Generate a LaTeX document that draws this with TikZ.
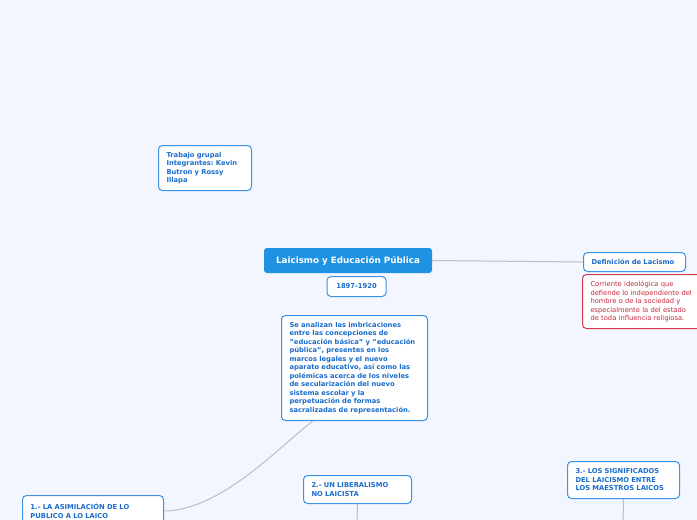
\documentclass[tikz,border=0pt]{standalone}
\usepackage{fontspec}
\setmainfont{DejaVu Sans}
\usetikzlibrary{positioning}
\frenchspacing
\definecolor{cback}{HTML}{F3F6FE}
\definecolor{cborder}{HTML}{3A94E6}
\definecolor{ctext}{HTML}{1A6CCC}
\definecolor{cmain}{HTML}{1E93E3}
\definecolor{cred}{HTML}{D2384C}
\definecolor{credtext}{HTML}{C9283E}
\definecolor{cline}{HTML}{B9BDC7}

\begin{document}
\begin{tikzpicture}[
  x=1pt, y=-1pt,
  topic/.style={draw=cborder, fill=white, rounded corners=4pt, line width=1pt,
                text=ctext, font=\fontsize{6.75}{8.5}\selectfont\bfseries,
                align=left, inner xsep=8pt, inner ysep=0pt, anchor=north west},
  mainbox/.style={fill=cmain, rounded corners=3pt, text=white,
                  font=\fontsize{8.75}{10}\selectfont\bfseries,
                  minimum width=168pt, minimum height=25pt, inner sep=0pt},
  notebox/.style={draw=cred, fill=white, rounded corners=4pt, line width=1pt,
                  text=credtext, font=\fontsize{6.75}{8.5}\selectfont,
                  align=left, inner xsep=8pt, inner ysep=0pt, anchor=north west},
  link/.style={draw=cline, line width=1pt}
]
\fill[cback] (0,0) rectangle (697,520);
\useasboundingbox (0,0) rectangle (697,520);
\begin{scope}
\clip (0,0) rectangle (697,520);

\node[mainbox] (main) at (348,260.5) {Laicismo y Educación Pública};
\node[topic, anchor=north, align=center, minimum width=59pt, minimum height=20pt,
      inner xsep=0pt] (date) at (356.5,276) {1897-1920};

\node[topic, text width=77pt, minimum height=45pt] (grupo) at (158,145)
  {Trabajo grupal\\Integrantes: Kevin\\Butron y Rossy\\Illapa};

\node[topic, text width=130pt, minimum height=105pt] (resumen) at (281,315)
  {Se analizan las imbricaciones\\entre las concepciones de\\%
   "educación básica" y "educación\\pública", presentes en los\\%
   marcos legales y el nuevo\\aparato educativo, así como las\\%
   polémicas acerca de los niveles\\de secularización del nuevo\\%
   sistema escolar y la\\perpetuación de formas\\%
   sacralizadas de representación.};

\node[topic, text width=86pt, minimum height=19pt] (def) at (583,252)
  {Definición de Lacismo};
\node[notebox, text width=112pt, minimum height=54pt] (nota) at (582,274)
  {Corriente ideológica que\\defiende lo independiente del\\%
   hombre o de la sociedad y\\especialmente la del estado\\%
   de toda influencia religiosa.};

\node[topic, text width=125pt, minimum height=31pt] (uno) at (22,495)
  {1.- LA ASIMILACIÓN DE LO\\PUBLICO A LO LAICO};
\node[topic, text width=92pt, minimum height=28pt] (dos) at (303,475)
  {2.- UN LIBERALISMO\\NO LAICISTA};
\node[topic, text width=96pt, minimum height=37pt] (tres) at (567,461)
  {3.- LOS SIGNIFICADOS\\DEL LAICISMO ENTRE\\LOS MAESTROS LAICOS};

\coordinate (dosfin) at (357,525);
\coordinate (tresfin) at (623,525);

\draw[link] (main.east) -- (def.west);
\draw[link] (uno.east) .. controls +(58,0) and +(-28,20) .. ([xshift=32pt]resumen.south west);
\draw[link] (dos.south) -- (dosfin);
\draw[link] (tres.south) -- (tresfin);
\end{scope}
\end{tikzpicture}
\end{document}
